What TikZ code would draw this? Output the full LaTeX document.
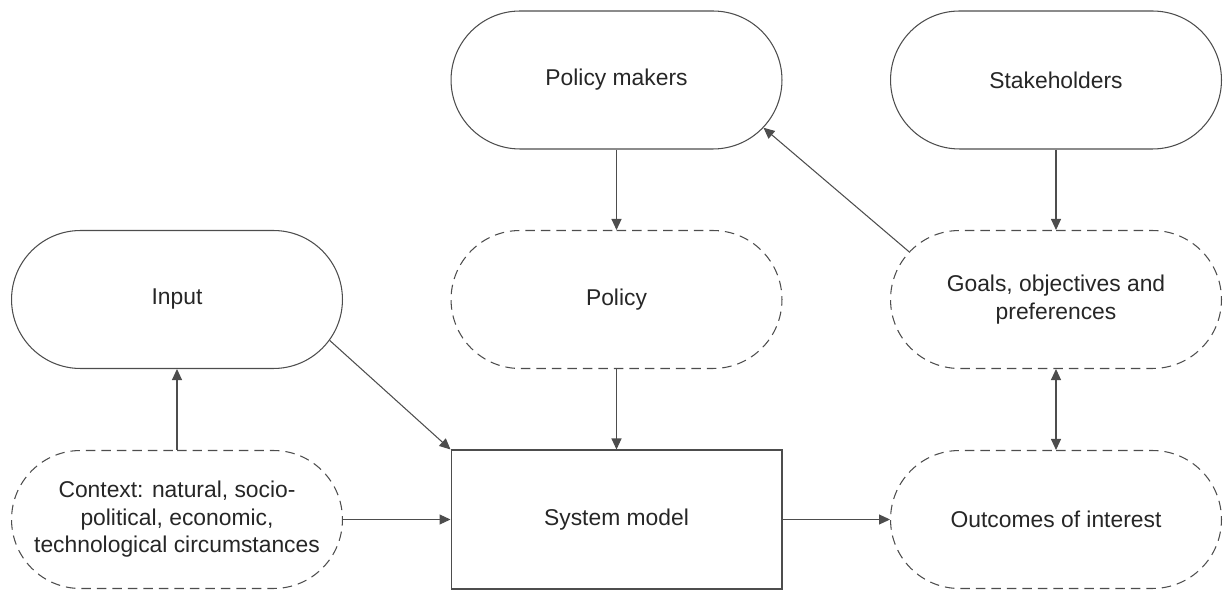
\documentclass[tikz,border=0pt]{standalone}
\usepackage{fontspec}
\setmainfont{Liberation Sans}
\usetikzlibrary{shapes.misc,arrows.meta}
\definecolor{MyGray}{HTML}{4D4D4D}
\definecolor{MyText}{HTML}{262626}

\begin{document}
\begin{tikzpicture}[x=0.02cm,y=-0.02cm,
        >={Triangle[length=0.22cm,width=0.2cm]},
        pill/.style={rounded rectangle, draw=MyGray, line width=0.6pt,
                minimum width=6.62cm, minimum height=2.76cm, inner sep=0pt,
                align=center, text=MyText, font=\fontsize{13}{15.6}\selectfont},
        dpill/.style={pill, dash pattern=on 0.19cm off 0.12cm},
        box/.style={rectangle, draw=MyGray, line width=0.6pt,
                minimum width=6.62cm, minimum height=2.78cm, inner sep=0pt,
                text=MyText, font=\fontsize{13}{15.6}\selectfont},
        link/.style={draw=MyGray, line width=0.6pt}]

        \useasboundingbox (0,0) rectangle (1226,590);

        \node[pill] (Makers) at (616.5,80) {Policy makers};
        \node[pill] (Stake) at (1056,80) {Stakeholders};

        \node[pill] (Input) at (177,299.5) {Input};
        \node[dpill] (Policy) at (616.5,299.5) {Policy};
        \node[dpill] (Goals) at (1056,299.5) {Goals, objectives and\\preferences};

        \node[dpill] (Context) at (177,519.5) {Context: natural, socio-\\political, economic,\\technological circumstances};
        \node[box] (Model) at (616.5,519.5) {System model};
        \node[dpill] (Outcomes) at (1056,519.5) {Outcomes of interest};

        \draw[link,->] (Makers.south) -- (Policy.north);
        \draw[link,->] (Stake.south) -- (Goals.north);
        \draw[link,->] (Goals.162) -- (Makers.-18);
        \draw[link,->] (Input.-15) -- (Model.north west);
        \draw[link,->] (Policy.south) -- (Model.north);
        \draw[link,->] (Context.north) -- (Input.south);
        \draw[link,->] (Context.east) -- (Model.west);
        \draw[link,->] (Model.east) -- (Outcomes.west);
        \draw[link,<->] (Goals.south) -- (Outcomes.north);

\end{tikzpicture}
\end{document}
